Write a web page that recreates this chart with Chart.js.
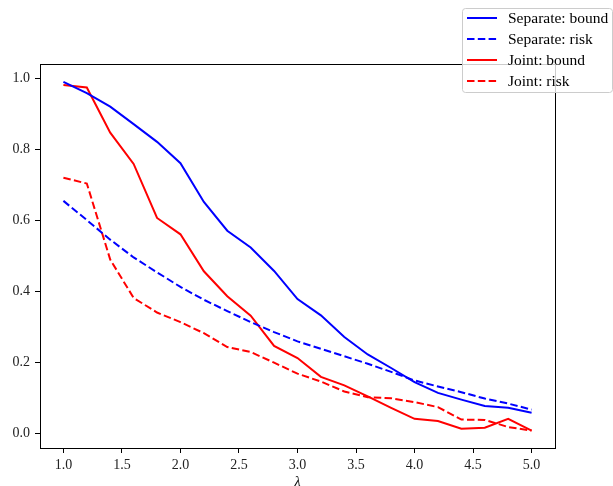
<!DOCTYPE html>
<html>
<head>
<meta charset="utf-8">
<script src="https://cdn.jsdelivr.net/npm/chart.js@4/dist/chart.umd.min.js"></script>
<style>
  html, body { margin: 0; padding: 0; background: #fff; }
  #wrap { width: 613px; height: 486px; }
</style>
</head>
<body>
<div id="wrap"><canvas id="chart" width="613" height="486"></canvas></div>
<script>
// values
const lambdas = [1.0, 1.2, 1.4, 1.6, 1.8, 2.0, 2.2, 2.4, 2.6, 2.8, 3.0, 3.2, 3.4, 3.6, 3.8, 4.0, 4.2, 4.4, 4.6, 4.8, 5.0];
const separateBound = [0.990, 0.958, 0.920, 0.871, 0.821, 0.761, 0.652, 0.571, 0.524, 0.458, 0.379, 0.333, 0.272, 0.223, 0.185, 0.145, 0.115, 0.096, 0.078, 0.073, 0.059];
const separateRisk = [0.655, 0.601, 0.546, 0.496, 0.454, 0.413, 0.377, 0.345, 0.314, 0.286, 0.260, 0.239, 0.218, 0.197, 0.174, 0.150, 0.133, 0.117, 0.099, 0.085, 0.068];
const jointBound = [0.981, 0.974, 0.847, 0.759, 0.607, 0.561, 0.457, 0.387, 0.332, 0.247, 0.213, 0.160, 0.136, 0.105, 0.073, 0.042, 0.036, 0.014, 0.017, 0.042, 0.009];
const jointRisk = [0.720, 0.704, 0.490, 0.382, 0.341, 0.314, 0.283, 0.244, 0.230, 0.200, 0.169, 0.147, 0.119, 0.103, 0.100, 0.089, 0.075, 0.040, 0.039, 0.019, 0.009];

const xTicks = [1.0, 1.5, 2.0, 2.5, 3.0, 3.5, 4.0, 4.5, 5.0];
const yTicks = [0.0, 0.2, 0.4, 0.6, 0.8, 1.0];

const FONT = "'Liberation Serif', 'DejaVu Serif', serif";

function pts(ys) {
  return lambdas.map((x, i) => ({ x: x, y: ys[i] }));
}

function series(label, ys, color, dashed) {
  return {
    label: label,
    data: pts(ys),
    borderColor: color,
    backgroundColor: color,
    borderWidth: 2,
    borderDash: dashed ? [7.5, 3.3] : [],
    pointRadius: 0,
    tension: 0,
    fill: false
  };
}

// top/right spines + legend box like matplotlib
const framePlugin = {
  id: "frame",
  afterDraw(chart) {
    const ctx = chart.ctx;
    const a = chart.chartArea;
    ctx.save();
    ctx.strokeStyle = "#000";
    ctx.lineWidth = 1;
    ctx.strokeRect(Math.round(a.left) + 0.5, Math.round(a.top) + 0.5, Math.round(a.right - a.left), Math.round(a.bottom - a.top));

    // legend
    const bx = 462, by = 8, bw = 150, bh = 84;
    ctx.beginPath();
    ctx.roundRect(bx + 0.5, by + 0.5, bw, bh, 3);
    ctx.fillStyle = "rgba(255,255,255,0.8)";
    ctx.fill();
    ctx.strokeStyle = "#cccccc";
    ctx.stroke();

    ctx.font = "15.5px " + FONT;
    ctx.textBaseline = "middle";
    chart.data.datasets.forEach((ds, i) => {
      const y = 18 + i * 21;
      ctx.beginPath();
      ctx.setLineDash(ds.borderDash);
      ctx.strokeStyle = ds.borderColor;
      ctx.lineWidth = 2;
      ctx.moveTo(467, y);
      ctx.lineTo(497, y);
      ctx.stroke();
      ctx.setLineDash([]);
      ctx.fillStyle = "#000";
      ctx.fillText(ds.label, 508, y + 1);
    });
    ctx.restore();
  }
};

new Chart(document.getElementById("chart").getContext("2d"), {
  type: "line",
  data: {
    datasets: [
      series("Separate: bound", separateBound, "#0000ff", false),
      series("Separate: risk", separateRisk, "#0000ff", true),
      series("Joint: bound", jointBound, "#ff0000", false),
      series("Joint: risk", jointRisk, "#ff0000", true)
    ]
  },
  options: {
    responsive: false,
    animation: false,
    layout: { padding: { top: 64, right: 58, left: 0, bottom: 0 } },
    plugins: {
      legend: { display: false },
      tooltip: { enabled: false }
    },
    scales: {
      x: {
        type: "linear",
        min: 0.8,
        max: 5.2,
        afterFit: (s) => { s.height = 38; },
        afterBuildTicks: (s) => { s.ticks = xTicks.map(v => ({ value: v })); },
        grid: { drawOnChartArea: false, drawTicks: true, tickLength: 5, tickColor: "#000" },
        border: { display: true, color: "#000", width: 1 },
        ticks: {
          color: "#222",
          padding: 4,
          maxRotation: 0,
          font: { family: FONT, size: 14 },
          callback: (v) => Number(v).toFixed(1)
        },
        title: {
          display: true,
          text: "λ",
          color: "#000",
          padding: { top: 0, bottom: -5 },
          font: { family: FONT, size: 14, style: "italic" }
        }
      },
      y: {
        type: "linear",
        min: -0.04,
        max: 1.04,
        afterFit: (s) => { s.width = 40; },
        afterBuildTicks: (s) => { s.ticks = yTicks.map(v => ({ value: v })); },
        grid: { drawOnChartArea: false, drawTicks: true, tickLength: 5, tickColor: "#000" },
        border: { display: true, color: "#000", width: 1 },
        ticks: {
          color: "#222",
          padding: 5,
          font: { family: FONT, size: 14 },
          callback: (v) => Number(v).toFixed(1)
        }
      }
    }
  },
  plugins: [framePlugin]
});
</script>
</body>
</html>
